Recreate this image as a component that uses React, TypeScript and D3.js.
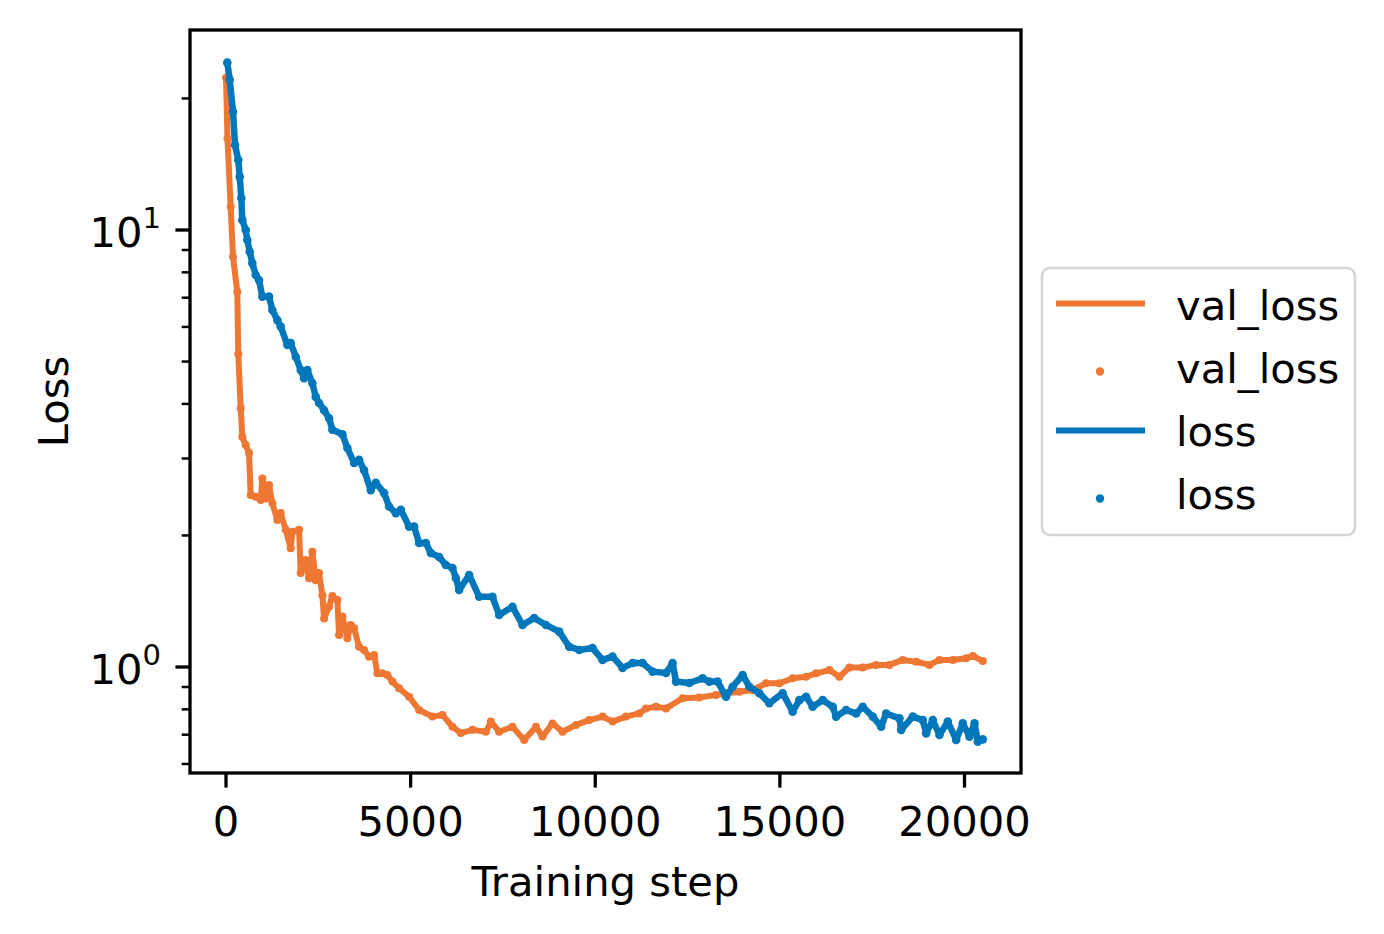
import React from "react";
import * as d3 from "d3";

const valSteps = [0,40,127,190,306,333,398,442,534,623,669,805,940,984,1076,1165,1255,1390,1482,1618,1753,1797,1978,2024,2160,2249,2339,2431,2520,2610,2656,2791,2881,3016,3062,3152,3287,3379,3469,3604,3740,3875,4011,4100,4236,4371,4507,4688,4959,5230,5591,5862,6133,6360,6675,7038,7173,7398,7759,8076,8393,8572,8843,9114,9477,9837,10198,10469,10832,11192,11374,11645,11916,12366,12818,13271,13542,13902,14263,14626,14986,15347,15710,15981,16341,16612,16883,17244,17607,17967,18328,18691,19051,19322,19683,20046,20224,20495];
const valLoss = [22.3,16.2,11.3,8.69,7.22,5.2,3.91,3.36,3.22,3.09,2.475,2.453,2.41,2.7,2.43,2.61,2.37,2.17,2.25,2.06,1.87,2.04,2.06,1.64,1.757,1.596,1.836,1.58,1.64,1.46,1.292,1.374,1.454,1.423,1.184,1.304,1.163,1.248,1.226,1.113,1.094,1.056,1.065,0.967,0.967,0.959,0.926,0.894,0.855,0.797,0.77,0.777,0.73,0.706,0.718,0.711,0.75,0.711,0.73,0.681,0.73,0.693,0.743,0.711,0.737,0.756,0.77,0.75,0.77,0.783,0.804,0.811,0.804,0.848,0.852,0.863,0.871,0.878,0.886,0.918,0.918,0.942,0.95,0.967,0.984,0.95,0.997,0.997,1.011,1.011,1.038,1.028,1.011,1.038,1.038,1.047,1.06,1.032];

const lossSteps = [35,100,190,244,333,371,415,442,534,577,642,713,805,894,984,1165,1255,1390,1482,1661,1753,1889,2024,2114,2203,2339,2431,2520,2656,2791,2881,3152,3287,3469,3604,3740,3921,4057,4282,4417,4599,4734,4959,5095,5230,5412,5548,5772,5954,6133,6225,6314,6585,6856,7217,7398,7759,8030,8347,8664,9024,9295,9566,9927,10198,10469,10740,11011,11282,11553,11916,12095,12187,12547,12908,13089,13314,13542,13721,13992,14173,14444,14715,15076,15347,15528,15710,15889,16160,16431,16523,16794,17065,17244,17515,17742,17878,18238,18284,18599,18870,18962,19141,19322,19547,19775,19954,20135,20271,20360,20495];
const lossValues = [24.15,22.1,18.65,15.65,14.46,13.24,11.84,10.54,10.0,9.49,8.92,8.4,7.89,7.68,7.04,7.04,6.56,6.22,6.01,5.46,5.51,5.13,4.78,4.58,4.78,4.46,4.15,4.02,3.87,3.71,3.49,3.41,3.17,2.93,2.98,2.82,2.54,2.64,2.5,2.33,2.25,2.29,2.095,2.095,1.922,1.922,1.824,1.785,1.712,1.685,1.599,1.5,1.624,1.448,1.448,1.315,1.374,1.248,1.295,1.248,1.205,1.113,1.094,1.105,1.038,1.056,0.995,1.021,1.021,0.976,0.969,1.021,0.926,0.919,0.942,0.926,0.926,0.855,0.901,0.959,0.901,0.871,0.826,0.871,0.79,0.84,0.855,0.811,0.84,0.811,0.77,0.797,0.783,0.811,0.77,0.73,0.783,0.763,0.718,0.77,0.756,0.705,0.756,0.699,0.75,0.681,0.743,0.693,0.743,0.675,0.683];

const xTicks = [0, 5000, 10000, 15000, 20000];
const yMajorTicks = [1, 10];
const yMajorExp = ["0", "1"];
const yMinorTicks = [0.6, 0.7, 0.8, 0.9, 2, 3, 4, 5, 6, 7, 8, 9, 20];

const seriesNames = ["val_loss", "val_loss", "loss", "loss"];

const ORANGE = "#EE7733";
const BLUE = "#0077BB";
const FONT = "DejaVu Sans";

export default function App() {
  const W = 1384, H = 934;
  const L = 190, R = 1021, T = 30, B = 773;
  const x = d3.scaleLinear().domain([0, 20000]).range([226, 964.5]);
  const y = d3.scaleLog().domain([1, 10]).range([667, 230]);

  const valPts: [number, number][] = valSteps.map((s, i) => [s, valLoss[i]]);
  const lossPts: [number, number][] = lossSteps.map((s, i) => [s, lossValues[i]]);
  const line = d3.line<[number, number]>().x(d => x(d[0])).y(d => y(d[1]));

  const legendRows = [303.5, 371.5, 430.5, 498.5];
  const legendText = [320, 383, 446, 509];
  const legendColors = [ORANGE, ORANGE, BLUE, BLUE];

  return (
    <svg width={W} height={H} style={{ position: "absolute", left: 0, top: 0, background: "#fff" }} fontFamily={FONT}>
      <rect x={0} y={0} width={W} height={H} fill="#fff" />
      <defs>
        <clipPath id="plotclip">
          <rect x={L} y={T} width={R - L} height={B - T} />
        </clipPath>
      </defs>
      <g clipPath="url(#plotclip)">
        <path d={line(valPts) || ""} fill="none" stroke={ORANGE} strokeWidth={6} strokeLinejoin="round" strokeLinecap="round" />
        {valPts.map((p, i) => (
          <circle key={"v" + i} cx={x(p[0])} cy={y(p[1])} r={4} fill={ORANGE} />
        ))}
        <path d={line(lossPts) || ""} fill="none" stroke={BLUE} strokeWidth={6.5} strokeLinejoin="round" strokeLinecap="round" />
        {lossPts.map((p, i) => (
          <circle key={"l" + i} cx={x(p[0])} cy={y(p[1])} r={4.3} fill={BLUE} />
        ))}
      </g>
      <rect x={L} y={T} width={R - L} height={B - T} fill="none" stroke="#000" strokeWidth={3.3} />
      {xTicks.map(t => (
        <g key={"xt" + t}>
          <line x1={x(t)} x2={x(t)} y1={B} y2={B + 14.6} stroke="#000" strokeWidth={3.3} />
          <text x={x(t)} y={836} textAnchor="middle" fontSize={41.7} fill="#000">{t}</text>
        </g>
      ))}
      {yMinorTicks.map(t => (
        <line key={"ym" + t} x1={L - 8.3} x2={L} y1={y(t)} y2={y(t)} stroke="#000" strokeWidth={2.5} />
      ))}
      {yMajorTicks.map((t, i) => (
        <g key={"yt" + t}>
          <line x1={L - 14.6} x2={L} y1={y(t)} y2={y(t)} stroke="#000" strokeWidth={3.3} />
          <text x={161} y={y(t) + 17} textAnchor="end" fontSize={41.7} fill="#000">
            <tspan>10</tspan>
            <tspan dy={-19} fontSize={29}>{yMajorExp[i]}</tspan>
          </text>
        </g>
      ))}
      <text x={605.5} y={896} textAnchor="middle" fontSize={41.7} fill="#000">Training step</text>
      <text transform={`translate(68,${(T + B) / 2}) rotate(-90)`} textAnchor="middle" fontSize={41.7} fill="#000">Loss</text>
      <rect x={1042} y={268} width={313} height={267} rx={8} ry={8} fill="#fff" stroke="#d6d6d6" strokeWidth={2.6} />
      {seriesNames.map((name, i) => (
        <g key={"lg" + i}>
          {i % 2 === 0 ? (
            <line x1={1056} x2={1145} y1={legendRows[i]} y2={legendRows[i]} stroke={legendColors[i]} strokeWidth={6.2} />
          ) : (
            <circle cx={1100} cy={legendRows[i]} r={4.2} fill={legendColors[i]} />
          )}
          <text x={1176} y={legendText[i]} fontSize={41.7} fill="#000">{name}</text>
        </g>
      ))}
    </svg>
  );
}
